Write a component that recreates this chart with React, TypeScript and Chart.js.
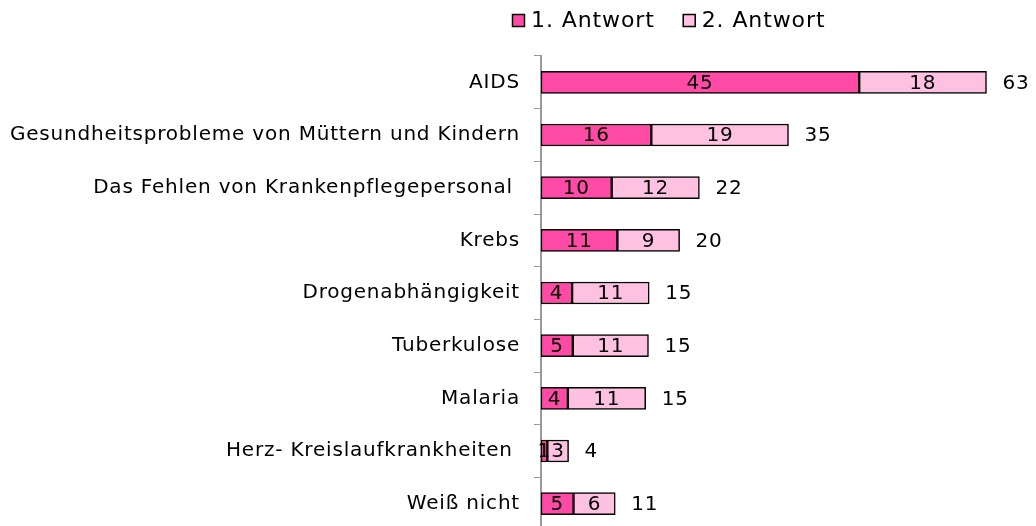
import React, { useEffect, useRef } from "react";
import { Chart, registerables } from "chart.js";

Chart.register(...registerables);

const categories = [
  "AIDS",
  "Gesundheitsprobleme von Müttern und Kindern",
  "Das Fehlen von Krankenpflegepersonal ",
  "Krebs",
  "Drogenabhängigkeit",
  "Tuberkulose",
  "Malaria",
  "Herz- Kreislaufkrankheiten ",
  "Weiß nicht",
];
const firstAnswer = [45, 15.6, 10.0, 10.8, 4.4, 4.5, 3.8, 0.9, 4.6];
const secondAnswer = [18, 19.4, 12.4, 8.8, 10.9, 10.7, 11.0, 3.0, 5.9];
const totalLabels = ["63", "35", "22", "20", "15", "15", "15", "4", "11"];
const seriesNames = ["1. Antwort", "2. Antwort"];
const seriesColors = ["#FF4BA5", "#FFC1E1"];

const FONT = "DejaVu Sans, Verdana, sans-serif";
const FS = 20;
const LS = "0.8px";

const labelPlugin = {
  id: "labels",
  beforeDraw(chart: any) {
    chart.ctx.letterSpacing = LS;
  },
  afterDatasetsDraw(chart: any) {
    const ctx = chart.ctx;
    ctx.save();
    ctx.letterSpacing = LS;
    ctx.font = `${FS}px ${FONT}`;
    ctx.fillStyle = "#000";
    ctx.textBaseline = "middle";
    chart.data.datasets.forEach((ds: any, di: number) => {
      const meta = chart.getDatasetMeta(di);
      meta.data.forEach((bar: any, i: number) => {
        const cx = (bar.x + bar.base) / 2;
        ctx.textAlign = "center";
        ctx.fillText(String(Math.round(ds.data[i])), cx, bar.y + 1);
      });
    });
    const last = chart.getDatasetMeta(chart.data.datasets.length - 1);
    last.data.forEach((bar: any, i: number) => {
      ctx.textAlign = "left";
      ctx.fillText(totalLabels[i], bar.x + 16, bar.y + 1);
    });
    // legend
    ctx.font = `22px ${FONT}`;
    ctx.letterSpacing = "0.9px";
    const ly = 20;
    let x = 512;
    seriesNames.forEach((name, i) => {
      ctx.fillStyle = seriesColors[i];
      ctx.fillRect(x + 0.5, ly - 5.5, 12, 12);
      ctx.strokeStyle = "#000";
      ctx.lineWidth = 1.5;
      ctx.strokeRect(x + 0.5, ly - 5.5, 12, 12);
      ctx.fillStyle = "#000";
      ctx.textAlign = "left";
      ctx.fillText(name, x + 19, ly + 1);
      x += 19 + ctx.measureText(name).width + 28;
    });
    ctx.restore();
  },
};

export default function App() {
  const ref = useRef<HTMLCanvasElement>(null);
  useEffect(() => {
    if (!ref.current) return;
    const chart = new Chart(ref.current, {
      type: "bar",
      data: {
        labels: categories,
        datasets: [
          {
            label: seriesNames[0],
            data: firstAnswer,
            backgroundColor: seriesColors[0],
            borderColor: "#000",
            borderWidth: 1.5,
            borderSkipped: false,
            barThickness: 22,
          },
          {
            label: seriesNames[1],
            data: secondAnswer,
            backgroundColor: seriesColors[1],
            borderColor: "#000",
            borderWidth: 1.5,
            borderSkipped: false,
            barThickness: 22,
          },
        ],
      },
      options: {
        indexAxis: "y",
        animation: false,
        responsive: false,
        maintainAspectRatio: false,
        devicePixelRatio: 1,
        layout: { padding: { top: 56, right: 0, bottom: 0, left: 0 } },
        plugins: {
          legend: { display: false },
          tooltip: { enabled: false },
        },
        scales: {
          x: {
            stacked: true,
            display: false,
            min: 0,
            max: 70,
          },
          y: {
            stacked: true,
            offset: true,
            border: { display: true, color: "#9a9a9a", width: 2 },
            grid: {
              display: true,
              offset: true,
              drawOnChartArea: false,
              drawTicks: true,
              tickLength: 7,
              color: "#9a9a9a",
              lineWidth: 1,
            },
            ticks: {
              color: "#000",
              padding: 14,
              font: { family: FONT, size: FS },
              autoSkip: false,
            },
            afterFit(scale: any) {
              scale.width = 541;
              scale.paddingTop = 0;
              scale.paddingBottom = 0;
            },
          },
        },
      },
      plugins: [labelPlugin],
    } as any);
    return () => chart.destroy();
  }, []);
  return (
    <div
      style={{
        position: "fixed",
        left: 0,
        top: 0,
        width: 1036,
        height: 526,
        overflow: "hidden",
        background: "#fff",
      }}
    >
      <canvas
        ref={ref}
        width={1036}
        height={530}
        style={{ display: "block", width: 1036, height: 530 }}
      />
    </div>
  );
}
